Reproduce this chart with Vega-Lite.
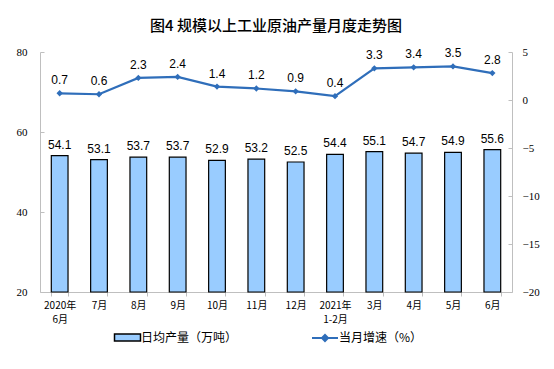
{
  "$schema": "https://vega.github.io/schema/vega-lite/v6.json",
  "width": 472,
  "height": 240,
  "autosize": {"type": "none"},
  "padding": {"left": 40, "top": 52, "right": 42, "bottom": 77},
  "background": "white",
  "title": {
    "text": "图4  规模以上工业原油产量月度走势图",
    "font": "Noto Sans CJK SC",
    "fontSize": 15,
    "fontWeight": 500,
    "color": "#000000",
    "anchor": "middle",
    "offset": 12
  },
  "config": {
    "view": {"stroke": null},
    "axis": {"grid": false, "domainColor": "#BFBFBF", "tickColor": "#BFBFBF", "labelColor": "#000000"}
  },
  "data": {
    "values": [
      {"month": "2020年|6月", "output": 54.1, "growth": 0.7},
      {"month": "7月", "output": 53.1, "growth": 0.6},
      {"month": "8月", "output": 53.7, "growth": 2.3},
      {"month": "9月", "output": 53.7, "growth": 2.4},
      {"month": "10月", "output": 52.9, "growth": 1.4},
      {"month": "11月", "output": 53.2, "growth": 1.2},
      {"month": "12月", "output": 52.5, "growth": 0.9},
      {"month": "2021年|1-2月", "output": 54.4, "growth": 0.4},
      {"month": "3月", "output": 55.1, "growth": 3.3},
      {"month": "4月", "output": 54.7, "growth": 3.4},
      {"month": "5月", "output": 54.9, "growth": 3.5},
      {"month": "6月", "output": 55.6, "growth": 2.8}
    ]
  },
  "encoding": {
    "x": {
      "field": "month",
      "type": "ordinal",
      "sort": null,
      "title": null,
      "scale": {"paddingInner": 0.575, "paddingOuter": 0.2875},
      "axis": {
        "labelExpr": "split(datum.label, '|')",
        "labelAngle": 0,
        "labelFont": "Noto Sans CJK SC",
        "labelFontSize": 10,
        "labelPadding": 4,
        "labelLineHeight": 14,
        "tickBand": "extent",
        "tickSize": 4,
        "domainColor": "#BFBFBF"
      }
    }
  },
  "layer": [
    {
      "layer": [
        {
          "mark": {"type": "bar", "stroke": "#000000", "strokeWidth": 1.2},
          "encoding": {
            "y": {
              "field": "output",
              "type": "quantitative",
              "title": null,
              "scale": {"domain": [20, 80], "nice": false, "zero": false},
              "axis": {
                "orient": "left",
                "values": [20, 40, 60, 80],
                "labelFont": "Liberation Serif",
                "labelFontSize": 11,
                "tickSize": -4,
                "labelPadding": 17
              }
            },
            "y2": {"datum": 20},
            "fill": {
              "datum": "日均产量（万吨）",
              "type": "nominal",
              "scale": {"range": ["#99CCFF"]},
              "legend": {
                "title": null,
                "orient": "none",
                "legendX": 78,
                "legendY": 276,
                "symbolType": "M-1.5,-0.4H1.5V0.4H-1.5Z",
                "symbolSize": 300,
                "symbolStrokeColor": "#000000",
                "symbolStrokeWidth": 1.5,
                "labelFont": "Noto Sans CJK SC",
                "labelFontSize": 12,
                "labelColor": "#000000",
                "labelOffset": 4
              }
            }
          }
        },
        {
          "mark": {"type": "text", "baseline": "bottom", "dy": -4, "font": "Liberation Sans", "fontSize": 12, "color": "#000000"},
          "encoding": {
            "y": {"field": "output", "type": "quantitative"},
            "text": {"field": "output", "type": "quantitative", "format": ".1f"}
          }
        }
      ]
    },
    {
      "layer": [
        {
          "mark": {"type": "line", "strokeWidth": 2.2},
          "encoding": {
            "y": {
              "field": "growth",
              "type": "quantitative",
              "title": null,
              "scale": {"domain": [-20, 5], "nice": false, "zero": false},
              "axis": {
                "orient": "right",
                "values": [-20, -15, -10, -5, 0, 5],
                "labelFont": "Liberation Serif",
                "labelFontSize": 11,
                "tickSize": -4,
                "labelPadding": 14
              }
            },
            "stroke": {
              "datum": "当月增速（%）",
              "type": "nominal",
              "scale": {"range": ["#2F6EBA"]},
              "legend": {
                "title": null,
                "orient": "none",
                "legendX": 275,
                "legendY": 276,
                "symbolType": "M-1.5,0H1.5M-0.35,0L0,-0.35L0.35,0L0,0.35Z",
                "symbolSize": 300,
                "symbolStrokeWidth": 2,
                "symbolFillColor": "#2F6EBA",
                "labelFont": "Noto Sans CJK SC",
                "labelFontSize": 12,
                "labelColor": "#000000",
                "labelOffset": 4
              }
            }
          }
        },
        {
          "mark": {"type": "point", "shape": "diamond", "filled": true, "size": 40, "color": "#2F6EBA", "opacity": 1},
          "encoding": {
            "y": {"field": "growth", "type": "quantitative"}
          }
        },
        {
          "mark": {"type": "text", "baseline": "bottom", "dy": -6, "font": "Liberation Sans", "fontSize": 12, "color": "#000000"},
          "encoding": {
            "y": {"field": "growth", "type": "quantitative"},
            "text": {"field": "growth", "type": "quantitative", "format": ".1f"}
          }
        }
      ]
    }
  ],
  "resolve": {"scale": {"y": "independent", "fill": "independent", "stroke": "independent"}}
}
